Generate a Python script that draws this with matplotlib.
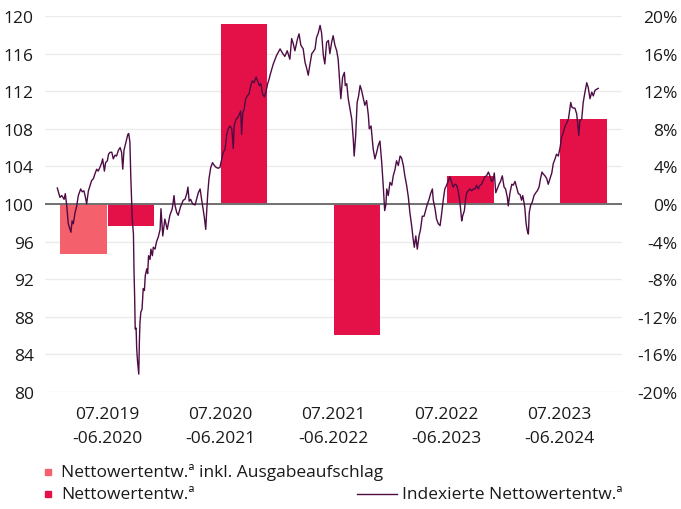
import matplotlib
matplotlib.use("Agg")
import matplotlib.pyplot as plt
from matplotlib.lines import Line2D
import numpy as np

plt.rcParams['font.family'] = ['Open Sans', 'DejaVu Sans']
plt.rcParams['axes.unicode_minus'] = False

# ---- data ----
periods = ["07.2019\n-06.2020", "07.2020\n-06.2021", "07.2021\n-06.2022",
           "07.2022\n-06.2023", "07.2023\n-06.2024"]
perf_incl_fee = [-5.3, None, None, None, None]          # Nettowertentw. inkl. Ausgabeaufschlag (%)
perf_net = [-2.3, 19.1, -13.9, 3.0, 9.0]               # Nettowertentw. (%)

# indexed net value development (start = 100), days since 01.07.2019
index_days = [0, 9, 15, 23, 27, 32, 37, 43, 46, 50, 54, 60, 65, 71, 79, 84, 90, 95, 99, 105,
              110, 116, 122, 127, 133, 138, 144, 150, 153, 159, 163, 169, 173, 178, 184, 189, 195, 200, 206, 212,
              217, 221, 225, 232, 238, 241, 245, 248, 251, 253, 257, 259, 261, 263, 266, 268, 271, 275, 277, 279,
              282, 286, 290, 294, 297, 302, 305, 308, 313, 316, 321, 324, 330, 335, 341, 347, 350, 356, 363, 371,
              380, 388, 394, 397, 403, 408, 416, 425, 431, 437, 441, 445, 450, 457, 465, 470, 476, 482, 487, 493,
              497, 501, 504, 508, 512, 518, 524, 530, 536, 543, 549, 555, 560, 566, 572, 577, 583, 589, 594, 597,
              603, 609, 614, 619, 622, 626, 630, 636, 641, 647, 653, 658, 664, 671, 676, 682, 687, 693, 699, 704,
              710, 715, 718, 729, 740, 752, 761, 768, 776, 785, 791, 796, 802, 811, 816, 822, 830, 836, 842, 847,
              853, 859, 864, 870, 875, 881, 887, 892, 898, 903, 909, 915, 920, 926, 931, 937, 943, 948, 954, 957,
              963, 969, 972, 977, 982, 988, 994, 999, 1002, 1007, 1012, 1017, 1022, 1027, 1033, 1038, 1044, 1050, 1053, 1059,
              1063, 1066, 1072, 1078, 1083, 1089, 1095, 1100, 1105, 1109, 1112, 1117, 1123, 1129, 1134, 1140, 1145, 1151, 1157, 1162,
              1168, 1173, 1179, 1185, 1190, 1196, 1201, 1205, 1210, 1215, 1221, 1226, 1232, 1238, 1243, 1249, 1254, 1260, 1266, 1269,
              1275, 1280, 1286, 1292, 1297, 1303, 1308, 1314, 1320, 1325, 1331, 1336, 1342, 1348, 1353, 1359, 1365, 1368, 1374, 1378,
              1382, 1387, 1393, 1399, 1404, 1410, 1415, 1421, 1427, 1432, 1438, 1443, 1449, 1455, 1460, 1466, 1471, 1475, 1480, 1485,
              1491, 1496, 1502, 1508, 1513, 1519, 1522, 1528, 1534, 1539, 1545, 1550, 1556, 1562, 1567, 1571, 1575, 1578, 1582, 1586,
              1590, 1593, 1598, 1603, 1609, 1615, 1620, 1626, 1631, 1636, 1640, 1646, 1652, 1657, 1663, 1669, 1674, 1680, 1685, 1691,
              1697, 1702, 1708, 1713, 1719, 1725, 1728, 1733, 1737, 1742, 1747, 1753, 1756, 1760, 1764, 1770, 1775, 1781, 1787, 1792,
              1798, 1804, 1809, 1815, 1820, 1826]
index_values = [101.7, 100.7, 100.9, 100.5, 101.1, 99.8, 97.9, 97.3, 97.0, 98.2, 97.9, 99.1, 99.7, 100.9, 101.6, 101.3, 101.4, 100.7, 100.0, 101.4,
                101.9, 102.5, 102.7, 103.2, 103.7, 103.5, 103.9, 104.4, 104.8, 103.5, 104.4, 104.6, 105.3, 105.5, 105.5, 104.8, 105.2, 105.1, 105.7, 106.0,
                105.5, 103.7, 105.7, 106.6, 107.4, 107.5, 106.6, 103.0, 100.2, 98.4, 96.8, 92.8, 90.2, 86.7, 86.8, 84.6, 83.2, 81.9, 85.3, 87.4,
                88.5, 88.8, 91.0, 90.8, 92.4, 93.1, 92.6, 94.5, 94.1, 95.2, 94.5, 95.4, 95.2, 96.0, 96.5, 97.3, 99.5, 96.6, 98.4, 97.3,
                98.8, 99.5, 100.9, 99.9, 99.1, 98.8, 99.7, 100.4, 100.5, 101.1, 101.8, 100.3, 100.5, 100.0, 99.9, 100.5, 101.2, 101.6, 100.5, 99.3,
                98.4, 97.3, 99.1, 101.2, 102.7, 103.9, 104.4, 104.1, 103.9, 103.8, 103.9, 104.8, 105.5, 105.8, 107.4, 108.0, 108.3, 108.0, 105.9, 108.3,
                109.0, 109.2, 109.5, 109.9, 107.4, 109.7, 110.0, 111.2, 111.5, 111.7, 112.6, 113.1, 112.9, 113.5, 113.1, 112.6, 112.8, 111.7, 111.4, 111.9,
                112.8, 113.3, 113.7, 114.9, 115.8, 116.5, 116.0, 115.7, 116.3, 115.4, 117.6, 117.1, 116.3, 117.6, 118.1, 116.9, 116.5, 115.1, 114.4, 113.7,
                114.9, 116.0, 116.2, 116.5, 117.7, 118.2, 119.0, 118.2, 115.8, 114.9, 117.2, 117.4, 116.0, 117.2, 117.9, 116.9, 116.3, 115.4, 112.6, 111.2,
                113.5, 114.0, 112.6, 112.8, 111.2, 110.1, 109.0, 106.9, 105.1, 107.2, 110.8, 111.5, 112.6, 112.1, 111.2, 110.5, 111.0, 109.4, 108.0, 108.3,
                106.9, 105.9, 104.8, 105.5, 106.2, 106.7, 104.4, 102.0, 99.3, 99.9, 101.6, 100.9, 102.3, 102.0, 103.0, 103.7, 104.6, 104.1, 105.1, 104.9,
                104.1, 103.0, 102.0, 100.7, 99.1, 97.7, 96.3, 95.4, 96.6, 95.2, 96.6, 97.3, 98.7, 98.7, 99.3, 100.0, 100.4, 101.1, 101.6, 100.4,
                99.5, 98.4, 97.9, 97.7, 98.9, 100.5, 101.6, 102.0, 102.5, 102.9, 102.3, 101.8, 102.1, 102.0, 101.4, 100.2, 98.2, 98.7, 99.3, 100.5,
                101.2, 101.4, 101.6, 101.4, 101.6, 101.6, 102.0, 101.6, 102.0, 102.1, 102.5, 102.9, 103.0, 103.4, 103.0, 102.4, 102.6, 103.3, 101.2, 101.6,
                102.1, 102.4, 103.0, 101.8, 101.6, 100.7, 99.8, 101.2, 102.1, 102.0, 102.4, 101.8, 101.1, 101.0, 100.4, 100.9, 100.2, 99.6, 98.0, 97.2,
                96.8, 99.1, 99.9, 100.2, 100.9, 101.2, 101.4, 101.8, 102.7, 103.4, 103.2, 103.0, 102.7, 102.1, 102.7, 103.3, 104.3, 104.8, 105.3, 105.1,
                106.0, 107.1, 107.6, 108.2, 108.6, 109.0, 109.7, 110.8, 110.3, 110.2, 110.2, 109.6, 108.7, 107.3, 108.9, 109.0, 110.8, 111.9, 112.9, 112.4,
                111.2, 111.9, 111.5, 112.1, 112.2, 112.3]

left_ticks = list(range(80, 121, 4))
right_ticks = list(range(-20, 21, 4))

# ---- styling ----
c_light = '#f4606b'
c_dark = '#e31148'
c_line = '#4e0c45'
W, H = 681, 510

fig = plt.figure(figsize=(W / 100, H / 100), dpi=100)
ax = fig.add_axes([45 / W, 1 - 393 / H, 577 / W, 376 / H])

x = np.arange(len(periods))
bw = 0.41
off = 0.21
light_x = [xi - off for xi, v in zip(x, perf_incl_fee) if v is not None]
light_v = [v for v in perf_incl_fee if v is not None]
ax.bar(light_x, light_v, width=bw, bottom=100, color=c_light, zorder=2)
ax.bar(x + off, perf_net, width=bw, bottom=100, color=c_dark, zorder=2)

ax.set_xlim(-0.55, 4.55)
ax.set_ylim(80, 120)
ax.set_yticks(left_ticks)
ax.set_yticklabels([str(t) for t in left_ticks])
ax.set_xticks(x)
ax.set_xticklabels(periods, linespacing=1.7)
ax.grid(axis='y', color='#ebebeb', linewidth=1.0, zorder=0)
ax.set_axisbelow(True)
ax.axhline(100, color='#707070', linewidth=1.4, zorder=3)
for s in ax.spines.values():
    s.set_visible(False)
ax.tick_params(axis='y', length=0, pad=8, labelsize=12.5, labelcolor='#1a1a1a')
ax.tick_params(axis='x', length=0, pad=10, labelsize=12.5, labelcolor='#1a1a1a')

sec = ax.secondary_yaxis('right', functions=(lambda v: v - 100, lambda p: p + 100))
sec.set_yticks(right_ticks)
sec.set_yticklabels([f'{t}%' for t in right_ticks])
sec.tick_params(length=0, pad=40, labelsize=12.5, labelcolor='#1a1a1a')
for lab in sec.get_yticklabels():
    lab.set_horizontalalignment('right')
for s in sec.spines.values():
    s.set_visible(False)

# line on a time axis
axl = ax.twiny()
axl.plot(index_days, index_values, color=c_line, linewidth=1.0, zorder=4)
axl.set_xlim(-41.5, 1906)
axl.set_ylim(80, 120)
axl.axis('off')

# ---- legend (manual) ----
def fx(px):
    return px / W

def fy(py):
    return 1 - py / H

fs = 12.5
fig.add_artist(Line2D([fx(48)], [fy(473)], marker='s', markersize=3.8, color=c_light, linestyle='none'))
fig.text(fx(61), fy(473), 'Nettowertentw.ª inkl. Ausgabeaufschlag', fontsize=fs, va='center', ha='left', color='#1a1a1a')
fig.add_artist(Line2D([fx(48)], [fy(495)], marker='s', markersize=3.8, color=c_dark, linestyle='none'))
fig.text(fx(61), fy(495), 'Nettowertentw.ª', fontsize=fs, va='center', ha='left', color='#1a1a1a')
fig.add_artist(Line2D([fx(357), fx(397)], [fy(495), fy(495)], color=c_line, linewidth=1.0))
fig.text(fx(402), fy(495), 'Indexierte Nettowertentw.ª', fontsize=fs, va='center', ha='left', color='#1a1a1a')

fig.savefig('out.png', dpi=100)
